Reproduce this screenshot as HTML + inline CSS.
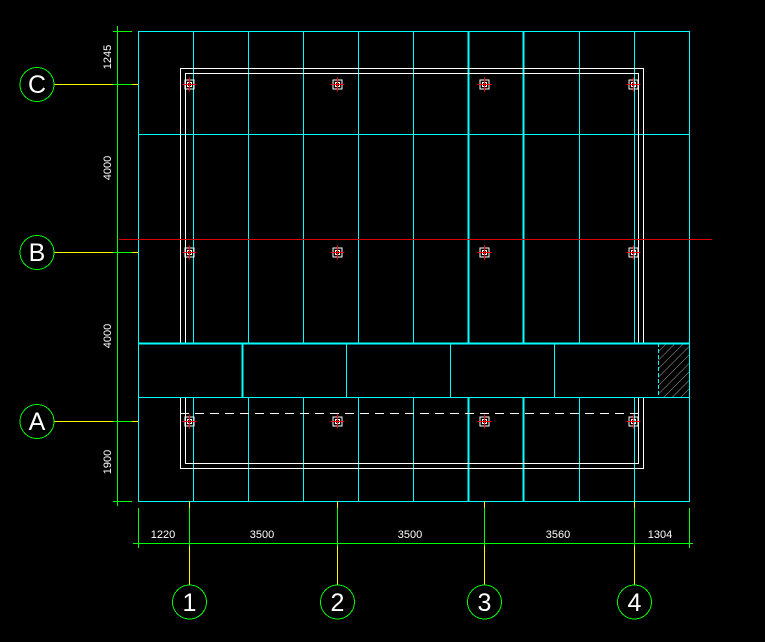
<!DOCTYPE html>
<html><head><meta charset="utf-8"><style>
html,body{margin:0;padding:0;background:#000;width:765px;height:642px;overflow:hidden}
svg{display:block}
text{font-family:"Liberation Sans",sans-serif;fill:#fff}
</style></head><body>
<svg width="765" height="642" viewBox="0 0 765 642" xmlns="http://www.w3.org/2000/svg" shape-rendering="crispEdges">
<defs>
<pattern id="h" width="6" height="6" patternUnits="userSpaceOnUse" patternTransform="rotate(45)">
<line x1="0" y1="0" x2="0" y2="6" stroke="#999" stroke-width="1"/>
</pattern>
<g id="col">
<rect x="-4.5" y="-4.5" width="9" height="9" fill="none" stroke="#fff" stroke-width="1.2"/>
<rect x="-2" y="-2" width="4" height="4" fill="none" stroke="#fff" stroke-width="1"/>
<line x1="-7" y1="0" x2="7" y2="0" stroke="#f00" stroke-width="1"/>
<line x1="0" y1="-7" x2="0" y2="7" stroke="#f00" stroke-width="1"/>
</g>
</defs>
<!-- grid -->
<g stroke="#0ff" stroke-width="1" fill="none">
<rect x="138.5" y="31.5" width="551" height="470"/>
<line x1="138" y1="134.5" x2="689" y2="134.5"/>
<line x1="193.5" y1="31" x2="193.5" y2="501"/>
<line x1="248.5" y1="31" x2="248.5" y2="501"/>
<line x1="303.5" y1="31" x2="303.5" y2="501"/>
<line x1="358.5" y1="31" x2="358.5" y2="501"/>
<line x1="413.5" y1="31" x2="413.5" y2="501"/>
<line x1="468.5" y1="31" x2="468.5" y2="501" stroke-width="2"/>
<line x1="523.5" y1="31" x2="523.5" y2="501" stroke-width="2"/>
<line x1="579.5" y1="31" x2="579.5" y2="501"/>
<line x1="634.5" y1="31" x2="634.5" y2="501"/>
</g>
<!-- white slab outlines -->
<g stroke="#fff" stroke-width="1.2" fill="none">
<rect x="180.5" y="68.5" width="463" height="400"/>
<rect x="185.5" y="73.5" width="453" height="390"/>
<line x1="180" y1="413.5" x2="643" y2="413.5" stroke-dasharray="9,6"/>
</g>
<!-- band -->
<rect x="139" y="344" width="550" height="53" fill="#000"/>
<rect x="658" y="344" width="31" height="53" fill="url(#h)"/>
<g stroke="#0ff" fill="none">
<line x1="138" y1="343.5" x2="690" y2="343.5" stroke-width="2"/>
<line x1="138" y1="397.5" x2="690" y2="397.5"/>
<line x1="242.5" y1="343" x2="242.5" y2="397" stroke-width="2"/>
<line x1="346.5" y1="343" x2="346.5" y2="397"/>
<line x1="450.5" y1="343" x2="450.5" y2="397"/>
<line x1="554.5" y1="343" x2="554.5" y2="397"/>
<line x1="658.5" y1="343" x2="658.5" y2="397" stroke-dasharray="4,2"/>
</g>
<line x1="119" y1="239.5" x2="712" y2="239.5" stroke="#d00" stroke-width="1"/>
<!-- columns -->
<use href="#col" x="189.5" y="84.5"/><use href="#col" x="337.5" y="84.5"/><use href="#col" x="484.5" y="84.5"/><use href="#col" x="633.5" y="84.5"/>
<use href="#col" x="189.5" y="252.5"/><use href="#col" x="337.5" y="252.5"/><use href="#col" x="484.5" y="252.5"/><use href="#col" x="633.5" y="252.5"/>
<use href="#col" x="189.5" y="421.5"/><use href="#col" x="337.5" y="421.5"/><use href="#col" x="484.5" y="421.5"/><use href="#col" x="633.5" y="421.5"/>
<!-- left axis -->
<g stroke="#ff0" stroke-width="1">
<line x1="54" y1="84.5" x2="138" y2="84.5"/>
<line x1="54" y1="252.5" x2="138" y2="252.5"/>
<line x1="54" y1="421.5" x2="138" y2="421.5"/>
</g>
<g stroke="#0f0" stroke-width="1" fill="none">
<line x1="117.5" y1="26" x2="117.5" y2="506"/>
<line x1="113" y1="31.5" x2="132" y2="31.5"/>
<line x1="113" y1="84.5" x2="132" y2="84.5"/>
<line x1="113" y1="252.5" x2="132" y2="252.5"/>
<line x1="113" y1="421.5" x2="132" y2="421.5"/>
<line x1="113" y1="501.5" x2="132" y2="501.5"/>
<circle cx="37" cy="84.5" r="17"/>
<circle cx="37" cy="252.5" r="17"/>
<circle cx="37" cy="421.5" r="17"/>
</g>
<g font-size="25">
<text x="37" y="93" text-anchor="middle">C</text>
<text x="37" y="261" text-anchor="middle">B</text>
<text x="37" y="430" text-anchor="middle">A</text>
</g>
<g font-size="11">
<text transform="translate(111,57) rotate(-90)" text-anchor="middle">1245</text>
<text transform="translate(111,168) rotate(-90)" text-anchor="middle">4000</text>
<text transform="translate(111,336) rotate(-90)" text-anchor="middle">4000</text>
<text transform="translate(111,462) rotate(-90)" text-anchor="middle">1900</text>
</g>
<!-- bottom axis -->
<g stroke="#ff0" stroke-width="1">
<line x1="189.5" y1="501" x2="189.5" y2="585"/>
<line x1="337.5" y1="501" x2="337.5" y2="585"/>
<line x1="484.5" y1="501" x2="484.5" y2="585"/>
<line x1="634.5" y1="501" x2="634.5" y2="585"/>
</g>
<g stroke="#0f0" stroke-width="1" fill="none">
<line x1="133" y1="543.5" x2="693" y2="543.5"/>
<line x1="138.5" y1="508" x2="138.5" y2="548"/>
<line x1="189.5" y1="508" x2="189.5" y2="546"/>
<line x1="337.5" y1="508" x2="337.5" y2="546"/>
<line x1="484.5" y1="508" x2="484.5" y2="546"/>
<line x1="634.5" y1="508" x2="634.5" y2="546"/>
<line x1="689.5" y1="508" x2="689.5" y2="548"/>
<circle cx="189.5" cy="602" r="17"/>
<circle cx="337.5" cy="602" r="17"/>
<circle cx="484.5" cy="602" r="17"/>
<circle cx="634.5" cy="602" r="17"/>
</g>
<g font-size="25" text-anchor="middle">
<text x="189.5" y="611">1</text>
<text x="337.5" y="611">2</text>
<text x="484.5" y="611">3</text>
<text x="634.5" y="611">4</text>
</g>
<g font-size="11" text-anchor="middle">
<text x="163" y="538">1220</text>
<text x="262" y="538">3500</text>
<text x="410" y="538">3500</text>
<text x="558" y="538">3560</text>
<text x="660" y="538">1304</text>
</g>
</svg>
</body></html>
